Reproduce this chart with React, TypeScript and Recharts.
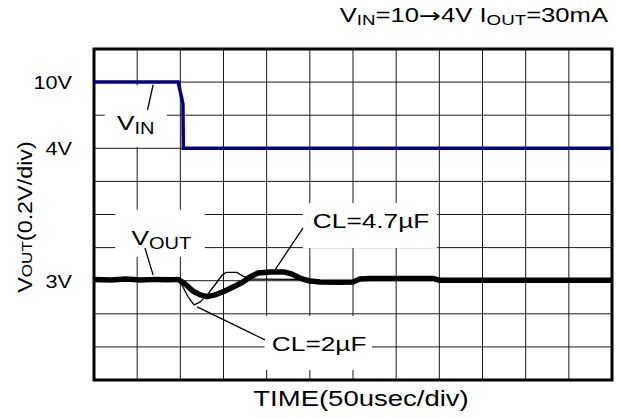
import React from 'react';
import {
  LineChart,
  Line,
  XAxis,
  YAxis,
  CartesianGrid,
  ReferenceArea,
  ReferenceLine,
  ReferenceDot,
  Customized,
} from 'recharts';

const FONT = '"Liberation Sans", Arial, Helvetica, sans-serif';
const SX = 1.14;
const SXL = 1.25;

const CHART_W = 619;
const CHART_H = 419;
const PLOT_LEFT = 94;
const PLOT_RIGHT_MARGIN = 7;

// grid: 12 time divisions (50 µs/div), 10 vertical divisions
const xGridDivs = [0, 1, 2, 3, 4, 5, 6, 7, 8, 9, 10, 11, 12];
const yGridDivs = [0, 1, 2, 3, 4, 5, 6, 7, 8, 9, 10];
const yTickDivs = [3, 7, 9];
const yTickLabels = ['3V', '4V', '10V'];

// VIN trace (divisions)
const vinTime = [0, 1.95, 2.06, 2.07, 12];
const vinLevel = [9, 9, 8.35, 7, 7];

// VOUT, CL = 4.7 µF (thick trace)
const vout47Time = [0, 0.38, 0.73, 1.08, 1.42, 1.77, 1.95, 2.11, 2.29, 2.46, 2.62, 2.8, 3.03, 3.27, 3.45, 3.61, 3.8, 4.08, 4.42, 4.59, 4.77, 5.0, 5.24, 5.7, 6.0, 6.16, 6.39, 7.09, 7.85, 8.01, 9.4, 10.79, 12];
const vout47Level = [3.04, 3.02, 3.05, 3.02, 3.04, 3.03, 3.04, 2.9, 2.69, 2.57, 2.52, 2.57, 2.69, 2.84, 2.96, 3.11, 3.23, 3.26, 3.26, 3.2, 3.08, 2.99, 2.96, 2.95, 2.96, 3.05, 3.07, 3.07, 3.07, 3.01, 3.01, 3.01, 3.01];

// VOUT, CL = 2 µF (thin trace)
const vout2Time = [0, 1.95, 2.06, 2.18, 2.32, 2.46, 2.64, 2.8, 2.97, 3.06, 3.31, 3.45, 3.61, 4.77, 5.0, 6.0, 6.16, 7.85, 8.01, 12];
const vout2Level = [3.04, 3.04, 2.81, 2.51, 2.27, 2.36, 2.6, 2.87, 3.17, 3.25, 3.25, 3.14, 3.05, 3.04, 2.99, 2.96, 3.05, 3.07, 3.01, 3.01];

const vinData = vinTime.map((t, i) => ({ t, v: vinLevel[i] }));
const vout47Data = vout47Time.map((t, i) => ({ t, v: vout47Level[i] }));
const vout2Data = vout2Time.map((t, i) => ({ t, v: vout2Level[i] }));

const plotW = CHART_W - PLOT_LEFT - PLOT_RIGHT_MARGIN;
const verticalPts = xGridDivs.map((v) => PLOT_LEFT + (v / 12) * plotW);

const YTick = (props: any) => {
  const { y, payload } = props;
  const idx = yTickDivs.indexOf(payload.value);
  return (
    <g transform={`translate(72,${y + 7}) scale(${SX},1)`}>
      <text x={0} y={0} textAnchor="end" fontFamily={FONT} fontSize={19} fill="#000">
        {yTickLabels[idx]}
      </text>
    </g>
  );
};

const makeLabel = (content: React.ReactNode) => (p: any) => (
  <g transform={`translate(${p.cx},${p.cy}) scale(${SXL},1)`}>
    <text x={0} y={0} fontFamily={FONT} fontSize={21} fill="#000">
      {content}
    </text>
  </g>
);

const Texts = () => (
  <g>
    <g transform={`translate(608,22) scale(${SXL},1)`}>
      <text x={0} y={0} textAnchor="end" fontFamily={FONT} fontSize={20.5} fill="#000">
        <tspan>V</tspan>
        <tspan fontSize={15} dy={3}>IN</tspan>
        <tspan dy={-3}>=10</tspan>
        <tspan fontFamily='"DejaVu Sans", sans-serif' fontSize={21} dy={1}>→</tspan>
        <tspan dy={-1}>4V I</tspan>
        <tspan fontSize={15} dy={3}>OUT</tspan>
        <tspan dy={-3}>=30mA</tspan>
      </text>
    </g>
    <g transform={`translate(361,406) scale(${SXL},1)`}>
      <text x={0} y={0} textAnchor="middle" fontFamily={FONT} fontSize={22} fill="#000">
        TIME(50usec/div)
      </text>
    </g>
    <g transform={`translate(32,217) rotate(-90) scale(${SX},1)`}>
      <text x={0} y={0} textAnchor="middle" fontFamily={FONT} fontSize={20.5} fill="#000">
        <tspan>V</tspan>
        <tspan fontSize={15}>OUT</tspan>
        <tspan>(0.2V/div)</tspan>
      </text>
    </g>
  </g>
);

export default function App() {
  return (
    <div style={{ position: 'absolute', left: 0, top: 0, width: CHART_W, height: CHART_H, background: '#fff' }}>
      <LineChart width={CHART_W} height={CHART_H} margin={{ top: 49, right: PLOT_RIGHT_MARGIN, bottom: 0, left: 0 }}>
        <XAxis dataKey="t" type="number" domain={[0, 12]} ticks={xGridDivs} tick={false} axisLine={false} tickLine={false} height={39} allowDataOverflow />
        <YAxis type="number" domain={[0, 10]} ticks={yTickDivs} tick={<YTick />} axisLine={false} tickLine={false} width={PLOT_LEFT} allowDataOverflow />
        <CartesianGrid horizontalValues={yGridDivs} verticalPoints={verticalPts} stroke="#1a1a1a" strokeWidth={1} />
        <ReferenceArea x1={0.25} x2={1.69} y1={7.05} y2={8.9} fill="#fff" fillOpacity={1} stroke="none" />
        <ReferenceArea x1={0.49} x2={2.57} y1={3.72} y2={5.14} fill="#fff" fillOpacity={1} stroke="none" />
        <ReferenceArea x1={4.84} x2={7.95} y1={3.99} y2={5.35} fill="#fff" fillOpacity={1} stroke="none" />
        <ReferenceArea x1={3.95} x2={6.44} y1={0.3} y2={1.93} fill="#fff" fillOpacity={1} stroke="none" />
        <ReferenceLine segment={[{ x: 1.37, y: 8.92 }, { x: 1.24, y: 8.16 }]} stroke="#000" strokeWidth={1.3} />
        <ReferenceLine segment={[{ x: 1.18, y: 3.99 }, { x: 1.37, y: 3.17 }]} stroke="#000" strokeWidth={1.3} />
        <ReferenceLine segment={[{ x: 4.84, y: 4.59 }, { x: 4.19, y: 3.32 }]} stroke="#000" strokeWidth={1.3} />
        <ReferenceLine segment={[{ x: 3.96, y: 1.21 }, { x: 2.39, y: 2.21 }]} stroke="#000" strokeWidth={1.3} />
        <ReferenceDot x={0.53} y={7.55} r={0} ifOverflow="visible" shape={makeLabel(<><tspan>V</tspan><tspan fontSize={16} dy={4}>IN</tspan></>)} />
        <ReferenceDot x={0.87} y={4.08} r={0} ifOverflow="visible" shape={makeLabel(<><tspan>V</tspan><tspan fontSize={16} dy={4}>OUT</tspan></>)} />
        <ReferenceDot x={5.07} y={4.59} r={0} ifOverflow="visible" shape={makeLabel(<tspan>CL=4.7µF</tspan>)} />
        <ReferenceDot x={4.12} y={0.88} r={0} ifOverflow="visible" shape={makeLabel(<tspan>CL=2µF</tspan>)} />
        <Line data={vinData} dataKey="v" type="linear" stroke="#000080" strokeWidth={3.5} dot={false} activeDot={false} isAnimationActive={false} />
        <Line data={vout47Data} dataKey="v" type="linear" stroke="#000" strokeWidth={5.5} strokeLinejoin="round" dot={false} activeDot={false} isAnimationActive={false} />
        <Line data={vout2Data} dataKey="v" type="linear" stroke="#000" strokeWidth={1.3} dot={false} activeDot={false} isAnimationActive={false} />
        <ReferenceArea x1={0} x2={12} y1={0} y2={10} fill="none" fillOpacity={0} stroke="#000" strokeWidth={3} ifOverflow="visible" />
        <Customized component={<Texts />} />
      </LineChart>
    </div>
  );
}
